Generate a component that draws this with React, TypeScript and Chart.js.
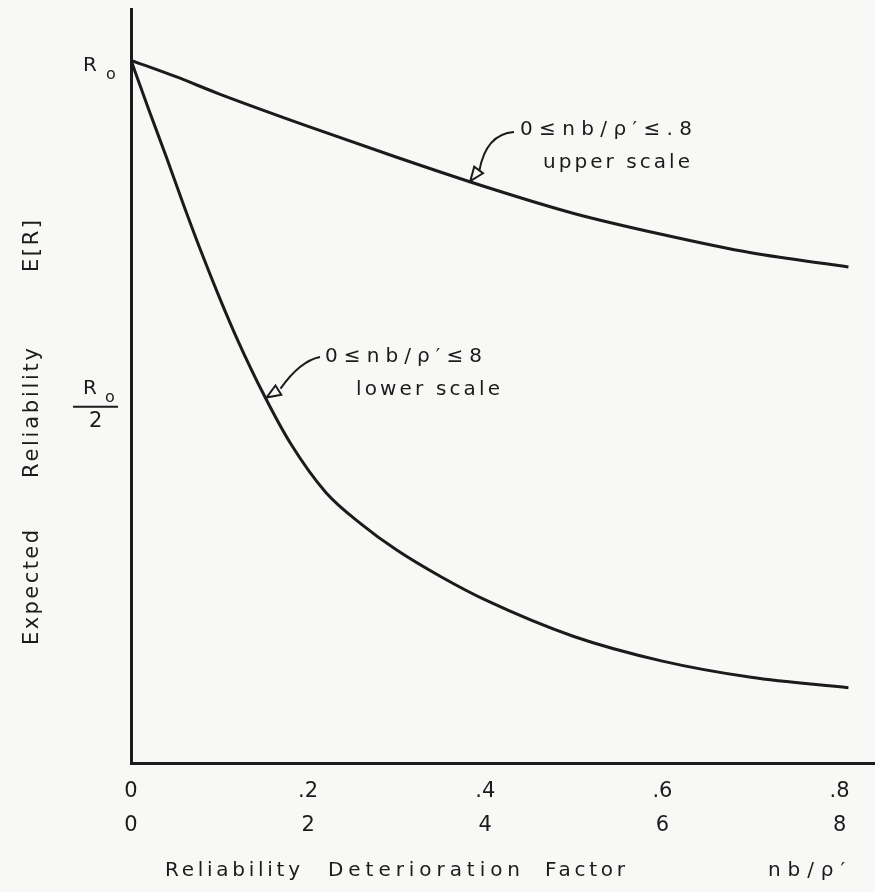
import React, { useEffect, useRef } from "react";
import { Chart, registerables } from "chart.js";

Chart.register(...registerables);

// x tick values on the lower scale (0..8); the upper scale is one tenth of it
const xTickValues = [0, 2, 4, 6, 8];
const upperTickLabels = ["0", ".2", ".4", ".6", ".8"];
const lowerTickLabels = ["0", "2", "4", "6", "8"];

// E[R] in units of R0
const yTickValues = [1, 0.5];

// curve read on the lower scale: 0 <= nb/rho' <= 8
const lowerScaleX = [0, 0.2, 0.4, 0.6, 0.8, 1.0, 1.2, 1.5, 1.8, 2.2, 2.6, 3.0, 3.5, 4.0, 5.0, 6.0, 7.0, 8.1];
const lowerScaleER = [1.0, 0.93, 0.862, 0.792, 0.725, 0.662, 0.603, 0.524, 0.455, 0.385, 0.34, 0.303, 0.265, 0.232, 0.18, 0.145, 0.122, 0.107];

// curve read on the upper scale: 0 <= nb/rho' <= .8
const upperScaleX = [0, 0.05, 0.1, 0.2, 0.3, 0.4, 0.5, 0.6, 0.7, 0.81];
const upperScaleER = [1.0, 0.977, 0.952, 0.906, 0.862, 0.82, 0.782, 0.752, 0.726, 0.706];

const INK = "#1b1b1b";
const FONT = "'DejaVu Sans', 'Liberation Sans', sans-serif";

function drawFit(ctx: CanvasRenderingContext2D, text: string, x0: number, x1: number, y: number, size: number) {
  ctx.save();
  ctx.font = `${size}px ${FONT}`;
  (ctx as any).letterSpacing = "0px";
  const w = ctx.measureText(text).width;
  const n = Array.from(text).length;
  const sp = n > 1 ? (x1 - x0 - w) / (n - 1) : 0;
  (ctx as any).letterSpacing = `${sp}px`;
  ctx.fillStyle = INK;
  ctx.textAlign = "left";
  ctx.textBaseline = "middle";
  ctx.fillText(text, x0, y);
  ctx.restore();
}

function openArrow(ctx: CanvasRenderingContext2D, fromX: number, fromY: number, tipX: number, tipY: number) {
  const ang = Math.atan2(tipY - fromY, tipX - fromX);
  const len = 14;
  const half = 5.5;
  const bx = tipX - len * Math.cos(ang);
  const by = tipY - len * Math.sin(ang);
  const nx = -Math.sin(ang);
  const ny = Math.cos(ang);
  ctx.beginPath();
  ctx.moveTo(tipX, tipY);
  ctx.lineTo(bx + nx * half, by + ny * half);
  ctx.lineTo(bx - nx * half, by - ny * half);
  ctx.closePath();
  ctx.fillStyle = "#f8f8f6";
  ctx.fill();
  ctx.stroke();
}

const annotationPlugin = {
  id: "drawingText",
  afterDraw(chart: any) {
    const ctx: CanvasRenderingContext2D = chart.ctx;
    const xs = chart.scales.x;
    const xu = chart.scales.xUpper;
    const ys = chart.scales.y;

    // y-axis labels R0 and R0/2
    const y1 = ys.getPixelForValue(yTickValues[0]);
    ctx.save();
    ctx.fillStyle = INK;
    ctx.textBaseline = "middle";
    ctx.textAlign = "left";
    ctx.font = `20px ${FONT}`;
    ctx.fillText("R", 83, y1 + 5);
    ctx.font = `16px ${FONT}`;
    ctx.fillText("o", 106, y1 + 15);
    const yh = ys.getPixelForValue(yTickValues[1]);
    ctx.font = `20px ${FONT}`;
    ctx.fillText("R", 83, yh - 23);
    ctx.font = `16px ${FONT}`;
    ctx.fillText("o", 105, yh - 14);
    ctx.font = `21px ${FONT}`;
    ctx.fillText("2", 89, yh + 10);
    ctx.strokeStyle = INK;
    ctx.lineWidth = 2;
    ctx.beginPath();
    ctx.moveTo(73, yh - 5);
    ctx.lineTo(118, yh - 5);
    ctx.stroke();
    ctx.restore();

    // rotated y title
    ctx.save();
    ctx.translate(33, 0);
    ctx.rotate(-Math.PI / 2);
    drawFit(ctx, "Expected", -645, -530, 0, 21);
    drawFit(ctx, "Reliability", -478, -348, 0, 21);
    drawFit(ctx, "E[R]", -272, -220, 0, 21);
    ctx.restore();

    // x title
    drawFit(ctx, "Reliability", 165, 300, 871, 20);
    drawFit(ctx, "Deterioration", 328, 520, 871, 20);
    drawFit(ctx, "Factor", 545, 625, 871, 20);
    drawFit(ctx, "nb/\u03C1\u2032", 768, 845, 871, 20);

    // upper-curve annotation
    drawFit(ctx, "0\u2264nb/\u03C1\u2032\u2264.8", 520, 692, 130, 20);
    drawFit(ctx, "upper scale", 543, 690, 163, 20);
    const tuX = xu.getPixelForValue(0.383);
    const tuY = ys.getPixelForValue(0.828);
    ctx.save();
    ctx.strokeStyle = INK;
    ctx.lineWidth = 2;
    ctx.beginPath();
    ctx.moveTo(514, 132);
    ctx.quadraticCurveTo(486, 134, tuX + 9, tuY - 10);
    ctx.stroke();
    openArrow(ctx, tuX + 12, tuY - 16, tuX, tuY);
    ctx.restore();

    // lower-curve annotation
    drawFit(ctx, "0\u2264nb/\u03C1\u2032\u22648", 325, 482, 357, 20);
    drawFit(ctx, "lower scale", 356, 500, 390, 20);
    const tlX = xs.getPixelForValue(1.53);
    const tlY = ys.getPixelForValue(0.52);
    ctx.save();
    ctx.strokeStyle = INK;
    ctx.lineWidth = 2;
    ctx.beginPath();
    ctx.moveTo(320, 357);
    ctx.quadraticCurveTo(300, 361, tlX + 14, tlY - 9);
    ctx.stroke();
    openArrow(ctx, tlX + 16, tlY - 10, tlX, tlY);
    ctx.restore();
  },
};

export default function App() {
  const canvasRef = useRef<HTMLCanvasElement | null>(null);

  useEffect(() => {
    const canvas = canvasRef.current;
    if (!canvas) return;
    const chart = new Chart(canvas, {
      type: "line",
      data: {
        datasets: [
          {
            label: "0 ≤ nb/ρ′ ≤ .8 upper scale",
            data: upperScaleX.map((x, i) => ({ x, y: upperScaleER[i] })),
            xAxisID: "xUpper",
            yAxisID: "y",
            borderColor: INK,
            borderWidth: 3,
            pointRadius: 0,
            fill: false,
            cubicInterpolationMode: "monotone",
          },
          {
            label: "0 ≤ nb/ρ′ ≤ 8 lower scale",
            data: lowerScaleX.map((x, i) => ({ x, y: lowerScaleER[i] })),
            xAxisID: "x",
            yAxisID: "y",
            borderColor: INK,
            borderWidth: 3,
            pointRadius: 0,
            fill: false,
            cubicInterpolationMode: "monotone",
          },
        ],
      },
      options: {
        responsive: false,
        animation: false,
        devicePixelRatio: 1,
        layout: { padding: { top: 9, right: 0, left: 0, bottom: 0 } },
        plugins: {
          legend: { display: false },
          tooltip: { enabled: false },
        },
        scales: {
          x: {
            type: "linear",
            position: "bottom",
            min: 0,
            max: 8.4,
            grid: { display: false, drawTicks: false },
            border: { display: true, color: INK, width: 3 },
            afterBuildTicks: (scale: any) => {
              scale.ticks = xTickValues.map((v) => ({ value: v }));
            },
            afterFit: (scale: any) => {
              scale.height = 129;
            },
            ticks: {
              autoSkip: false,
              maxRotation: 0,
              padding: 12,
              color: INK,
              font: { family: FONT, size: 21, lineHeight: 1.6 },
              callback: (_v: any, i: number) => [upperTickLabels[i], lowerTickLabels[i]],
            },
          },
          xUpper: {
            type: "linear",
            position: "bottom",
            min: 0,
            max: 0.84,
            display: false,
          },
          y: {
            type: "linear",
            position: "left",
            min: 0,
            max: 1.073,
            grid: { display: false, drawTicks: false },
            border: { display: true, color: INK, width: 3 },
            ticks: { display: false },
            afterFit: (scale: any) => {
              scale.width = 131;
            },
          },
        },
      },
      plugins: [annotationPlugin],
    } as any);
    return () => chart.destroy();
  }, []);

  return (
    <div
      style={{
        position: "fixed",
        left: 0,
        top: 0,
        width: 875,
        height: 892,
        background: "#f8f8f6",
      }}
    >
      <canvas ref={canvasRef} width={875} height={892} style={{ display: "block", width: 875, height: 892 }} />
    </div>
  );
}
